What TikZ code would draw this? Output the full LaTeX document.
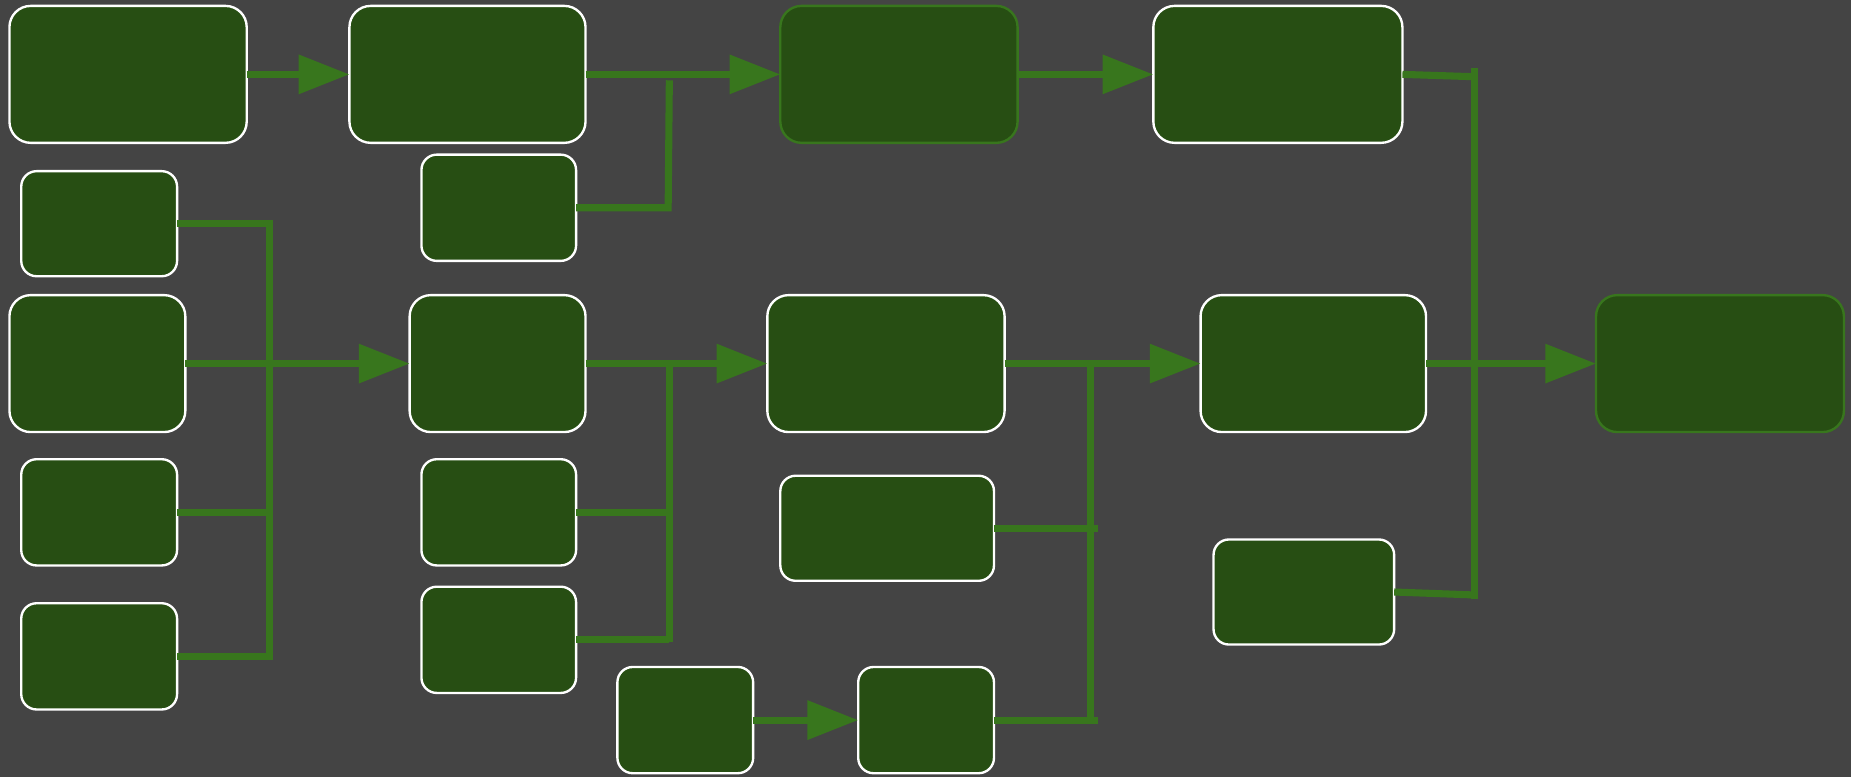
\documentclass[tikz,border=0pt]{standalone}
\usetikzlibrary{arrows.meta}
\definecolor{bg}{HTML}{444444}
\definecolor{boxfill}{HTML}{274E13}
\definecolor{conn}{HTML}{38761D}
\begin{document}
\begin{tikzpicture}[x=0.5pt,y=-0.5pt,
  box/.style={draw=white, line width=1pt, fill=boxfill, rounded corners=9pt, inner sep=0pt, outer sep=0pt},
  sbox/.style={box, rounded corners=6.5pt},
  gbox/.style={box, draw=conn},
  link/.style={draw=conn, line width=3pt},
  arr/.style={link, -{Triangle[length=21.5pt,width=16pt]}}]
\path[use as bounding box, fill=bg] (0,0) rectangle (1568,658);

% top row
\node[box, minimum width=100.5pt, minimum height=58pt] (A) at (108.5,63) {};
\node[box, minimum width=100pt, minimum height=58pt] (B) at (396,63) {};
\node[gbox, minimum width=100.5pt, minimum height=58pt] (C) at (761.5,63) {};
\node[box, minimum width=105.5pt, minimum height=58pt] (D) at (1082.5,63) {};
\node[sbox, minimum width=65.5pt, minimum height=45pt] (E) at (422.5,176) {};

% left column
\node[sbox, minimum width=66pt, minimum height=44.5pt] (F1) at (84,189.5) {};
\node[box, minimum width=74.5pt, minimum height=58pt] (F2) at (82.5,308) {};
\node[sbox, minimum width=66pt, minimum height=45pt] (F3) at (84,434) {};
\node[sbox, minimum width=66pt, minimum height=45pt] (F4) at (84,556) {};

% second column
\node[box, minimum width=74.5pt, minimum height=58pt] (G) at (421.5,308) {};
\node[sbox, minimum width=65.5pt, minimum height=45pt] (H1) at (422.5,434) {};
\node[sbox, minimum width=65.5pt, minimum height=45pt] (H2) at (422.5,542) {};

% third column
\node[box, minimum width=100.5pt, minimum height=58pt] (I) at (750.5,308) {};
\node[sbox, minimum width=90.5pt, minimum height=44.5pt] (J) at (751.5,447.5) {};
\node[sbox, minimum width=57.5pt, minimum height=45pt] (K) at (580.5,610) {};
\node[sbox, minimum width=57.5pt, minimum height=45pt] (L) at (784.5,610) {};

% right side
\node[box, minimum width=95.5pt, minimum height=58pt] (M) at (1112.5,308) {};
\node[sbox, minimum width=76.5pt, minimum height=44.5pt] (N) at (1104.5,501.5) {};
\node[gbox, minimum width=105pt, minimum height=58pt] (O) at (1457,308) {};

% arrows
\draw[arr] (A) -- (B);
\draw[arr] (B) -- (C);
\draw[arr] (C) -- (D);
\draw[arr] (F2) -- (G);
\draw[arr] (G) -- (I);
\draw[arr] (I) -- (M);
\draw[arr] (M) -- (O);
\draw[arr] (K) -- (L);

% bus E
\coordinate (e1) at (566,176);
\coordinate (e2) at (567,68);
\draw[link] (E.east) -- (e1) -- (e2);

% bus left
\coordinate (f1) at (228,189);
\coordinate (f4) at (228,556);
\draw[link] (F1.east) -- (F1.east -| f1);
\draw[link] ([yshift=1.5pt]f1) -- ([yshift=-1.5pt]f4);
\draw[link] (F3.east) -- (F3.east -| f1);
\draw[link] (F4.east) -- (F4.east -| f4);

% bus G
\coordinate (g1) at (567,308);
\coordinate (g2) at (567,541);
\draw[link] (g1) -- ([yshift=-1.5pt]g2);
\draw[link] (H1.east) -- (H1.east -| g1);
\draw[link] (H2.east) -- (H2.east -| g2);

% bus I
\coordinate (i1) at (924,308);
\coordinate (i2) at (924,609);
\coordinate (ix) at (930,0);
\draw[link] (i1) -- (i2);
\draw[link] (J.east) -- (J.east -| ix);
\draw[link] (L.east) -- (L.east -| ix);

% bus M
\coordinate (m1) at (1249,61);
\coordinate (m2) at (1249,504);
\coordinate (d1) at (1249,65);
\draw[link] ([yshift=1.5pt]m1) -- ([yshift=-1.5pt]m2);
\draw[link] (D.east) -- (d1);
\draw[link] (N.east) -- (m2);
\end{tikzpicture}
\end{document}
